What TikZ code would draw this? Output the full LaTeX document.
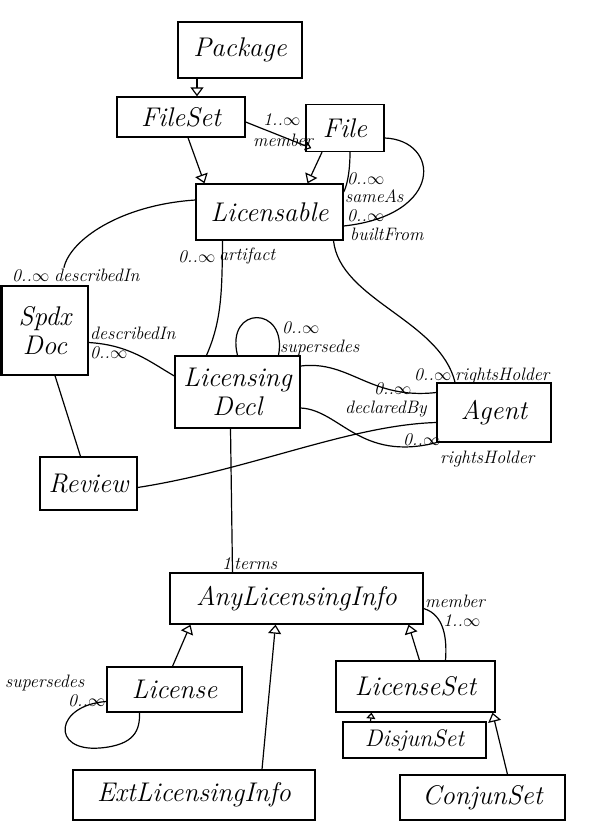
\documentclass[tikz,border=0pt]{standalone}
\usetikzlibrary{arrows.meta,calc}
\begin{document}
\begin{tikzpicture}[x=1pt,y=-1pt,
  box/.style={draw, line width=1.3pt, inner sep=0pt, align=center,
    font=\fontsize{27}{29}\selectfont\itshape},
  lbl/.style={inner sep=0pt, anchor=base west, font=\fontsize{18}{19}\selectfont\itshape},
  ln/.style={line width=1.2pt},
  gen/.style={line width=1.2pt, -{Triangle[open,width=13pt,length=9pt,line width=1.2pt]}},
  smalltip/.style={line width=1.2pt, -{Triangle[open,width=9pt,length=6pt,line width=1.2pt]}}
]
\useasboundingbox (0,0) rectangle (600,822);

% classes
\node[box, minimum width=124pt, minimum height=56pt] (pkg) at (240,50) {Package};
\node[box, minimum width=128pt, minimum height=40pt] (fs) at (181,117) {FileSet};
\node[box, minimum width=78pt, minimum height=47pt] (file) at (345,128) {File};
\node[box, minimum width=147pt, minimum height=56pt] (lic) at (269.5,212) {Licensable};
\node[box, minimum width=86pt, minimum height=89pt] (spdx) at (45,330.5) {Spdx\\Doc};
\node[box, minimum width=125pt, minimum height=72pt] (ld) at (237.5,392) {Licensing\\Decl};
\node[box, minimum width=114pt, minimum height=59pt] (agent) at (494,412.5) {Agent};
\node[box, minimum width=97pt, minimum height=53pt] (rev) at (88.5,483.5) {Review};
\node[box, minimum width=253pt, minimum height=51pt] (ali) at (296.5,598.5) {AnyLicensingInfo};
\node[box, minimum width=135pt, minimum height=45pt] (licn) at (174.5,689.5) {License};
\node[box, minimum width=159pt, minimum height=51pt] (lset) at (415.5,686.5) {LicenseSet};
\node[box, minimum width=143pt, minimum height=36pt, font=\fontsize{24}{26}\selectfont\itshape] (disj) at (414.5,740) {DisjunSet};
\node[box, minimum width=242pt, minimum height=50pt] (ext) at (194,795) {ExtLicensingInfo};
\node[box, minimum width=165pt, minimum height=45pt] (conj) at (482.5,797.5) {ConjunSet};

% thick left edge of Spdx Doc
\draw[line width=3.5pt] (spdx.north west) -- (spdx.south west);

% generalizations
\draw[gen] ($(pkg.south)+(-43,0)$) -- ($(fs.north)+(16,0)$);
\draw[gen] ($(fs.south)+(7,0)$) -- ($(lic.north)+(-65,0)$);
\draw[gen] ($(file.south)+(-23,0)$) -- ($(lic.north)+(38,0)$);
\draw[gen] ($(licn.north)+(-2,0)$) -- ($(ali.south)+(-106,0)$);
\draw[gen] ($(ext.north)+(68,0)$) -- ($(ali.south)+(-21,0)$);
\draw[gen] ($(lset.north)+(4,0)$) -- ($(ali.south)+(112,0)$);
\draw[smalltip] ($(disj.north)+(-44,0)$) -- ($(lset.south)+(-44,0)$);
\draw[gen] ($(conj.north)+(25,0)$) -- ($(lset.south)+(77,0)$);

% associations
\draw[smalltip] ($(fs.east)+(0,5)$) -- ($(file.south west)+(6,-4)$);
\draw[ln] ($(file.south)+(5,0)$) .. controls (350,175) and (346,188) .. ($(lic.east)+(0,-20)$);
\draw[ln] ($(file.east)+(0,10)$) .. controls (440,140) and (445,215) .. ($(lic.east)+(0,14)$);
\draw[ln, shorten >=18pt] ($(lic.west)+(0,-12)$) .. controls (120,205) and (70,240) .. ($(spdx.north)+(15,0)$);
\draw[ln] ($(lic.south)+(-47,0)$) .. controls (222,290) and (222,320) .. ($(ld.north)+(-31,0)$);
\draw[ln] ($(lic.south)+(64,0)$) .. controls (340,300) and (440,320) .. ($(agent.north)+(-39,0)$);
\draw[ln] ($(spdx.east)+(0,12)$) .. controls (130,345) and (150,362) .. ($(ld.west)+(0,-16)$);
\draw[ln] ($(ld.north)+(0,0)$) .. controls (225,305) and (288,305) .. ($(ld.north)+(41,0)$);
\draw[ln] ($(ld.east)+(0,-26)$) .. controls (350,360) and (370,400) .. ($(agent.west)+(0,-20)$);
\draw[ln] ($(ld.east)+(0,16)$) .. controls (340,410) and (360,462) .. (agent.south west);
\draw[ln] ($(rev.east)+(0,4)$) .. controls (250,470) and (350,425) .. ($(agent.west)+(0,10)$);
\draw[ln] ($(spdx.south)+(10,0)$) -- ($(rev.north)+(-8,0)$);
\draw[ln] ($(ld.south)+(-7,0)$) -- ($(ali.north)+(-64,0)$);
\draw[ln] ($(ali.east)+(0,10)$) .. controls (445,615) and (447,640) .. ($(lset.north)+(30,0)$);
\draw[ln] ($(licn.west)+(0,12)$) .. controls (55,705) and (50,752) .. (100,748)
  .. controls (135,745) and (140,730) .. ($(licn.south)+(-35,0)$);

% labels
\node[lbl] (l1) at (263,125) {1..$\infty$};
\node[lbl] (l2) at (253,146) {member};
\node[lbl] (l3) at (347,184) {0..$\infty$};
\node[lbl] (l4) at (345,202) {sameAs};
\node[lbl] (l5) at (347,221) {0..$\infty$};
\node[lbl] (l6) at (350,240) {builtFrom};
\node[lbl] (l7) at (12,281) {0..$\infty$};
\node[lbl] (l8) at (54,281) {describedIn};
\node[lbl] (l9) at (178,262) {0..$\infty$};
\node[lbl] (l10) at (219,260) {artifact};
\node[lbl] (l11) at (90,339) {describedIn};
\node[lbl] (l12) at (90,358) {0..$\infty$};
\node[lbl] (l13) at (282,333) {0..$\infty$};
\node[lbl] (l14) at (280,352) {supersedes};
\node[lbl] (l15) at (414,380) {0..$\infty$};
\node[lbl] (l16) at (455,380) {rightsHolder};
\node[lbl] (l17) at (374,394) {0..$\infty$};
\node[lbl] (l18) at (345,413) {declaredBy};
\node[lbl] (l19) at (403,445) {0..$\infty$};
\node[lbl] (l20) at (440,463) {rightsHolder};
\node[lbl] (l21) at (222,569) {1};
\node[lbl] (l22) at (234,569) {terms};
\node[lbl] (l23) at (425,607) {member};
\node[lbl] (l24) at (443,626) {1..$\infty$};
\node[lbl] (l25) at (5,687) {supersedes};
\node[lbl] (l26) at (68,706) {0..$\infty$};
\end{tikzpicture}
\end{document}
